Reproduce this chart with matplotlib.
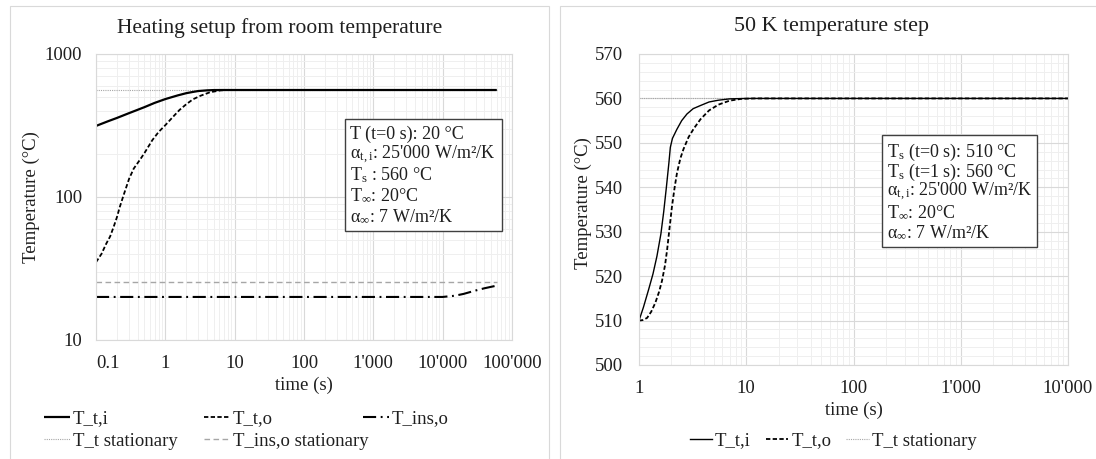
import matplotlib
matplotlib.use("Agg")
import matplotlib.pyplot as plt
from matplotlib.lines import Line2D
from matplotlib.patches import Rectangle
from matplotlib.ticker import FixedLocator, FuncFormatter, LogLocator, MultipleLocator, NullFormatter

plt.rcParams['font.family'] = ['Liberation Serif', 'DejaVu Serif']
plt.rcParams['mathtext.fontset'] = 'custom'
plt.rcParams['mathtext.rm'] = 'Liberation Serif'
plt.rcParams['mathtext.it'] = 'Liberation Serif:italic'
plt.rcParams['mathtext.bf'] = 'Liberation Serif:bold'

# ---------------- data: heating setup from room temperature ----------------
t_heat_ti = [0.1, 0.15, 0.2, 0.3, 0.5, 0.7, 1, 1.5, 2, 2.5, 3, 4, 5, 7, 10,
             100, 1000, 10000, 60000]
T_heat_ti = [314, 339, 357, 386, 425, 455, 484, 513, 532, 543, 551, 557, 559.5, 560, 560,
             560, 560, 560, 560]

t_heat_to = [0.1, 0.12, 0.14, 0.16, 0.18, 0.2, 0.22, 0.25, 0.3, 0.35, 0.43, 0.5, 0.65,
             0.8, 1, 1.3, 1.6, 2, 2.5, 3.2, 4.4, 6.3, 8, 10, 100, 1000, 10000, 60000]
T_heat_to = [35, 40, 47, 53, 62, 72, 85, 103, 134, 158, 182, 203, 250,
             285, 318, 365, 406, 445, 482, 510, 540, 557, 560, 560, 560, 560, 560, 560]

t_heat_ins = [0.1, 1, 10, 100, 1000, 10000, 15000, 20000, 30000, 40000, 60000]
T_heat_ins = [20, 20, 20, 20, 20, 20, 20.4, 21.0, 22.2, 23.0, 24.0]

t_heat_stat = [0.1, 60000]
T_t_stationary = 560
T_ins_stationary = 25.5

# ---------------- data: 50 K temperature step ----------------
t_step_ti = [1, 1.1, 1.23, 1.35, 1.47, 1.6, 1.7, 1.8, 1.9, 1.96, 2.05, 2.25, 2.5, 2.8,
             3.2, 3.74, 4.5, 5.5, 7, 10, 100, 1000, 10000]
T_step_ti = [510, 513, 517, 520.5, 524.5, 529.5, 534.5, 540, 545.5, 549, 551, 553, 555, 556.5,
             557.7, 558.4, 559.2, 559.6, 559.9, 560, 560, 560, 560]

t_step_to = [1, 1.08, 1.19, 1.3, 1.42, 1.54, 1.64, 1.75, 1.83, 1.93, 2.03, 2.15, 2.26, 2.43,
             2.6, 2.9, 3.24, 3.74, 4.5, 5.5, 7, 9, 12, 100, 1000, 10000]
T_step_to = [510, 510.1, 510.6, 512, 514, 516.5, 519, 522.5, 526, 531, 535.7, 540, 543.2, 546.5,
             548.6, 551.3, 553.2, 555.3, 557.3, 558.6, 559.5, 559.9, 560, 560, 560, 560]

t_step_stat = [1, 10000]

heat_xticks = [0.1, 1, 10, 100, 1000, 10000, 100000]
heat_yticks = [10, 100, 1000]
step_xticks = [1, 10, 100, 1000, 10000]
step_yticks = [500, 510, 520, 530, 540, 550, 560, 570]

heat_info = ["T (t=0 s): 20 °C",
             r"α$_{\mathrm{t,i}}$: 25'000 W/m²/K",
             r"T$_{\mathrm{s}}$ : 560 °C",
             r"T$_{\mathrm{∞}}$: 20°C",
             r"α$_{\mathrm{∞}}$: 7 W/m²/K"]
step_info = [r"T$_{\mathrm{s}}$ (t=0 s): 510 °C",
             r"T$_{\mathrm{s}}$ (t=1 s): 560 °C",
             r"α$_{\mathrm{t,i}}$: 25'000 W/m²/K",
             r"T$_{\mathrm{∞}}$: 20°C",
             r"α$_{\mathrm{∞}}$: 7 W/m²/K"]

# ---------------- figure layout (pixel based) ----------------
W, H = 1096, 459
fig = plt.figure(figsize=(W / 100, H / 100), dpi=100)
TXT = '#1f1f1f'
FS = 13.5


def fx(x):
    return x / W


def fy(y):
    return 1 - y / H


def px_box(x0, y0, x1, y1):
    return [x0 / W, 1 - y1 / H, (x1 - x0) / W, (y1 - y0) / H]


# chart-area frames
for (x0, y0, x1, y1) in [(10, 6, 549, 470), (560, 6, 1100, 470)]:
    fig.patches.append(Rectangle((fx(x0), fy(y1)), (x1 - x0) / W, (y1 - y0) / H,
                                 transform=fig.transFigure, fill=False,
                                 edgecolor='#d9d9d9', lw=0.8))

axL = fig.add_axes(px_box(96, 54, 512, 340))
axR = fig.add_axes(px_box(639, 54, 1068, 365))


def apos(v, _pos=None):
    if v < 1:
        return f"{v:g}"
    return f"{int(round(v)):,}".replace(",", "'")


def style_axes(ax, ypad):
    for s in ax.spines.values():
        s.set_color('#d9d9d9')
        s.set_linewidth(0.8)
    ax.grid(True, which='major', color='#d9d9d9', lw=0.8)
    ax.grid(True, which='minor', color='#efefef', lw=0.7)
    ax.set_axisbelow(True)
    ax.tick_params(which='both', length=0, labelsize=FS, labelcolor=TXT)
    ax.tick_params(axis='x', pad=10.5)
    ax.tick_params(axis='y', pad=ypad)


# line styles
sty_ti_L = dict(color='black', lw=1.6, solid_capstyle='butt')
sty_to_L = dict(color='black', lw=1.3, dashes=(2.4, 1.3))
sty_ins = dict(color='black', lw=1.5, dashes=(6.3, 2.2, 0.9, 2.2))
sty_tstat = dict(color='#a6a6a6', lw=0.8, dashes=(1, 1))
sty_insstat = dict(color='#a6a6a6', lw=1.0, dashes=(4, 2.5))
sty_ti_R = dict(color='black', lw=1.0)
sty_to_R = dict(color='black', lw=1.3, dashes=(2.4, 1.3))

# ---- left chart ----
axL.set_xscale('log')
axL.set_yscale('log')
axL.plot(t_heat_stat, [T_t_stationary] * 2, **sty_tstat)
axL.plot(t_heat_stat, [T_ins_stationary] * 2, **sty_insstat)
axL.plot(t_heat_ins, T_heat_ins, **sty_ins)
axL.plot(t_heat_to, T_heat_to, **sty_to_L)
axL.plot(t_heat_ti, T_heat_ti, **sty_ti_L)
axL.set_xlim(0.1, 1e5)
axL.set_ylim(10, 1000)
axL.xaxis.set_major_locator(FixedLocator(heat_xticks))
axL.yaxis.set_major_locator(FixedLocator(heat_yticks))
axL.xaxis.set_minor_locator(LogLocator(base=10, subs=range(2, 10), numticks=20))
axL.yaxis.set_minor_locator(LogLocator(base=10, subs=range(2, 10), numticks=20))
axL.xaxis.set_major_formatter(FuncFormatter(apos))
axL.yaxis.set_major_formatter(FuncFormatter(lambda v, p: f"{int(v)}"))
axL.xaxis.set_minor_formatter(NullFormatter())
axL.yaxis.set_minor_formatter(NullFormatter())
style_axes(axL, 10)
fig.canvas.draw()
axL.get_xticklabels()[0].set_horizontalalignment('left')

# ---- right chart ----
axR.set_xscale('log')
axR.plot(t_step_stat, [T_t_stationary] * 2, **sty_tstat)
axR.plot(t_step_to, T_step_to, **sty_to_R)
axR.plot(t_step_ti, T_step_ti, **sty_ti_R)
axR.set_xlim(1, 1e4)
axR.set_ylim(500, 570)
axR.xaxis.set_major_locator(FixedLocator(step_xticks))
axR.yaxis.set_major_locator(FixedLocator(step_yticks))
axR.xaxis.set_minor_locator(LogLocator(base=10, subs=range(2, 10), numticks=20))
axR.yaxis.set_minor_locator(MultipleLocator(2))
axR.xaxis.set_major_formatter(FuncFormatter(apos))
axR.xaxis.set_minor_formatter(NullFormatter())
style_axes(axR, 11.5)

# titles and axis labels
fig.text(fx(280), fy(28), "Heating setup from room temperature", ha='center', va='center',
         fontsize=15.5, color=TXT)
fig.text(fx(832), fy(27), "50 K temperature step", ha='center', va='center',
         fontsize=15.8, color=TXT)
fig.text(fx(304), fy(385), "time (s)", ha='center', va='center', fontsize=FS, color=TXT)
fig.text(fx(854), fy(410), "time (s)", ha='center', va='center', fontsize=FS, color=TXT)
fig.text(fx(31), fy(197), "Temperature (°C)", ha='center', va='center', rotation=90,
         fontsize=FS, color=TXT)
fig.text(fx(583), fy(203), "Temperature (°C)", ha='center', va='center', rotation=90,
         fontsize=FS, color=TXT)


# info boxes
def info_box(box, lines, x_text, y_first, step):
    x0, y0, x1, y1 = box
    fig.patches.append(Rectangle((fx(x0), fy(y1)), (x1 - x0) / W, (y1 - y0) / H,
                                 transform=fig.transFigure, facecolor='white',
                                 edgecolor='#404040', lw=1.0, zorder=5))
    for i, s in enumerate(lines):
        fig.text(fx(x_text), fy(y_first + i * step), s, ha='left', va='center',
                 fontsize=13, color=TXT, zorder=6)


info_box((345, 119, 502, 231), heat_info, 350, 134, 20.8)
info_box((882, 135, 1037, 247), step_info, 887, 152, 20.2)

# legends
def h(sty):
    return Line2D([], [], **sty)


leg_kw = dict(frameon=False, fontsize=FS, borderpad=0, borderaxespad=0,
              handletextpad=0.15, handlelength=1.4, labelspacing=0.27, labelcolor=TXT)
fig.legend([h(sty_ti_L), h(sty_tstat)], ["T_t,i", "T_t stationary"],
           loc='center left', bbox_to_anchor=(fx(44), fy(430)), **leg_kw)
fig.legend([h(sty_to_L), h(sty_insstat)], ["T_t,o", "T_ins,o stationary"],
           loc='center left', bbox_to_anchor=(fx(204), fy(430)), **leg_kw)
fig.legend([h(sty_ins)], ["T_ins,o"],
           loc='center left', bbox_to_anchor=(fx(363), fy(419)), **leg_kw)
fig.legend([h(sty_ti_R), h(sty_to_R), h(sty_tstat)], ["T_t,i", "T_t,o", "T_t stationary"],
           loc='center', bbox_to_anchor=(fx(833), fy(441)), ncol=3, columnspacing=0.8,
           frameon=False, fontsize=FS, borderpad=0, handletextpad=0.15, handlelength=1.2,
           labelcolor=TXT)

fig.savefig("out.png", dpi=100)
